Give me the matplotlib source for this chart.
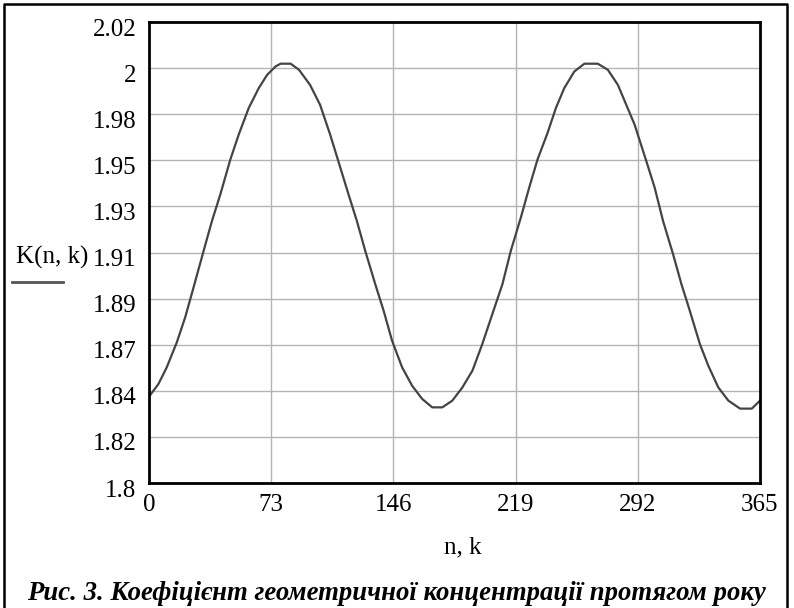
import numpy as np
import matplotlib
matplotlib.use("Agg")
import matplotlib.pyplot as plt
from matplotlib.lines import Line2D
from matplotlib.transforms import ScaledTranslation

# ---- data ----
days = [0, 5.6, 10.6, 16.6, 21.6, 26.6, 32.6, 37.6, 42.6, 48.6, 53.6, 59.6, 65.6,
        70.6, 75.6, 78.6, 84.6, 89.6, 96.2, 102.2, 108.2, 113.1, 119.2, 124.2,
        129.2, 135.2, 140.2, 145.2, 151.2, 157.2, 163.2, 169.2, 175.2, 181.2,
        187.2, 193.2, 199.1, 205.1, 211.1, 216.1, 222.1, 227.1, 232.1, 238.1,
        243.1, 248.1, 254.1, 260.1, 268.1, 274.1, 280.1, 285.1, 290.1, 297.1,
        302.1, 307.1, 313.1, 318.1, 323.1, 329.1, 334.1, 340.1, 346.1, 353.1,
        360.1, 365]
K = [1.8412, 1.8472, 1.8552, 1.8671, 1.879, 1.8933, 1.9107, 1.925, 1.9377, 1.9544,
     1.9663, 1.979, 1.9885, 1.9948, 1.9988, 2.0001, 2.0001, 1.9972, 1.990, 1.9805,
     1.9663, 1.9536, 1.9377, 1.925, 1.9107, 1.8948, 1.8821, 1.8679, 1.8552,
     1.8464, 1.8401, 1.8361, 1.8361, 1.8393, 1.8456, 1.8536, 1.8663, 1.8806,
     1.8948, 1.9107, 1.9266, 1.9409, 1.9544, 1.9671, 1.979, 1.9885, 1.9964,
     2.0001, 2.0001, 1.9972, 1.990, 1.9805, 1.971, 1.9536, 1.9409, 1.925, 1.9091,
     1.8948, 1.8821, 1.8663, 1.856, 1.8456, 1.8393, 1.8355, 1.8355, 1.8393]
xticks = [0, 73, 146, 219, 292, 365]
yticks = list(np.linspace(1.8, 2.02, 11))
ytick_labels = ["1.8", "1.82", "1.84", "1.87", "1.89", "1.91", "1.93", "1.95",
                "1.98", "2", "2.02"]

W, H = 794, 608
plt.rcParams['font.family'] = ['Liberation Serif', 'DejaVu Serif']
fig = plt.figure(figsize=(W / 100, H / 100), dpi=100)

L, R, T, B = 149, 760, 22, 483
ax = fig.add_axes([L / W, 1 - B / H, (R - L) / W, (B - T) / H])
ax.plot(days, K, color='#444444', lw=1.6)
ax.set_xlim(0, 365)
ax.set_ylim(1.8, 2.02)
ax.set_xticks(xticks)
ax.set_xticklabels([str(v) for v in xticks])
ax.set_yticks(yticks)
ax.set_yticklabels(ytick_labels)
ax.tick_params(length=0, labelsize=18, pad=9)
ax.tick_params(axis='x', pad=8)
ax.grid(True, color='#b4b4b4', lw=1)
for s in ax.spines.values():
    s.set_linewidth(2)
    s.set_color('black')
off = ScaledTranslation(0, -5 / 100, fig.dpi_scale_trans)
for lab in ax.get_yticklabels():
    lab.set_transform(lab.get_transform() + off)

def fx(px):
    return px / W

def fy(py):
    return 1 - py / H

fig.text(fx(52), fy(257), "K(n, k)", fontsize=18, ha='center', va='center')
fig.add_artist(Line2D([fx(12), fx(63)], [fy(282), fy(282)], color='#555555', lw=2))
fig.text(fx(463), fy(547), "n, k", fontsize=18, ha='center', va='center')
fig.text(fx(396), fy(593), "Рис. 3. Коефіцієнт геометричної концентрації протягом року",
         fontsize=19.3, fontweight='bold', fontstyle='italic', ha='center', va='center')

# outer frame (open at bottom)
fig.add_artist(Line2D([fx(4), fx(4), fx(787), fx(787)],
                      [fy(608), fy(4), fy(4), fy(608)], color='black', lw=1.8))

fig.savefig("out.png", dpi=100)
